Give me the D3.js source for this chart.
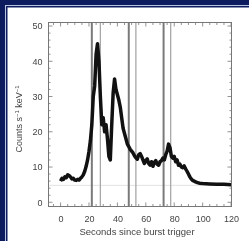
<!DOCTYPE html>
<html>
<head>
<meta charset="utf-8">
<script src="https://cdn.jsdelivr.net/npm/d3@7"></script>
<style>
  html, body { margin: 0; padding: 0; background: #0c1b5e; }
  svg { display: block; }
</style>
</head>
<body>
<svg id="chart" width="249" height="241"></svg>
<script>
// ---- data ----
const times = [0,1,2,3,4,5,6,7,8,9,10,11,12,13,14,15,16,17,18,19,20,21,22,23,24,25,26,27,28,29,30,31,32,33,34,35,36,37,38,39,40,41,42,43,44,45,46,47,48,49,50,51,52,53,54,55,56,57,58,59,60,61,62,63,64,65,66,67,68,69,70,71,72,73,74,75,76,77,78,79,80,81,82,83,84,85,86,87,88,89,90,91,92,93,94,95,96,97,98,100,105,110,115,120];
const counts = [6.0,6.8,6.5,7.2,7.0,7.8,7.6,7.2,6.6,6.8,6.3,6.2,6.5,6.3,6.8,7.2,7.8,8.8,10.2,12.0,14.5,17.5,22,30,33,42,45,40,30,22,24,20,22,18,13,12,22,31,35,32,30.5,29,27,24,21,19.5,18,16.5,15.8,15,14.5,14,13.2,12.6,12.2,13.5,13.8,13.0,12.0,11.0,11.8,12.3,11,10.5,11.5,10.2,11.3,11.8,10.8,10.5,11.5,11.8,12.5,12,13.5,14.5,16.5,15.5,13,12.5,13,11.5,12,10.5,10.8,10,9.8,10.3,9.5,8.8,8,7.2,6.6,6.2,6.0,5.8,5.6,5.5,5.4,5.3,5.2,5.1,5.1,5.0];
const intervalLines = [22, 28, 48, 53, 72.5, 77.5];
const backgroundLevel = [4.8];
const xTicks = [0, 20, 40, 60, 80, 100, 120];
const yTicks = [0, 10, 20, 30, 40, 50];
const xLabel = "Seconds since burst trigger";

const svg = d3.select("#chart");
// outer frame
svg.append("rect").attr("x",0).attr("y",0).attr("width",249).attr("height",241).attr("fill","#0c1b5e");
svg.append("rect").attr("x",5.5).attr("y",5.5).attr("width",260).attr("height",260)
   .attr("fill","none").attr("stroke","#b9c3e2").attr("stroke-width",1);
svg.append("rect").attr("x",7.5).attr("y",7.5).attr("width",250).attr("height",250).attr("fill","#ffffff");

const L = 48.5, R = 231.5, T = 22.5, B = 206.5;
const x = d3.scaleLinear().domain([-8.5, 120.3]).range([L, R]);
const y = d3.scaleLinear().domain([-1.2, 51]).range([B, T]);

const g = svg.append("g").style("filter","blur(0.45px)");

// background level line
g.selectAll(".bg").data(backgroundLevel).enter().append("line")
  .attr("x1", L).attr("x2", R).attr("y1", d=>y(d)).attr("y2", d=>y(d))
  .attr("stroke","#e2e2e2").attr("stroke-width",1);

// interval lines
g.selectAll(".vl").data(intervalLines).enter().append("line")
  .attr("x1", d=>x(d)).attr("x2", d=>x(d)).attr("y1", T).attr("y2", B)
  .attr("stroke", (d,i)=> i%2===0 ? "#7a7a7a" : "#a8a8a8")
  .attr("stroke-width", (d,i)=> i%2===0 ? 2 : 1.3);

// light curve
const line = d3.line().x((d,i)=>x(times[i])).y(d=>y(d)).curve(d3.curveLinear);
g.append("path").datum(counts).attr("d", line)
  .attr("fill","none").attr("stroke","#111").attr("stroke-width",3.5).attr("stroke-linejoin","round");

// frame
g.append("rect").attr("x",L).attr("y",T).attr("width",R-L).attr("height",B-T)
  .attr("fill","none").attr("stroke","#777").attr("stroke-width",1);

// axes
const fmt = d3.format("d");
const axB = d3.axisBottom(x).tickValues(xTicks).tickSize(0).tickPadding(9).tickFormat(fmt);
const axL = d3.axisLeft(y).tickValues(yTicks).tickSize(0).tickPadding(6).tickFormat(fmt);
const gb = g.append("g").attr("transform",`translate(0,${B})`).call(axB);
const gl = g.append("g").attr("transform",`translate(${L},0)`).call(axL);
[gb, gl].forEach(a => {
  a.select(".domain").remove();
  a.selectAll("text").attr("fill","#444").style("font-family","Liberation Sans, Arial, sans-serif").style("font-size","9px");
});

// ticks (inward), mirrored
const xMinor = d3.range(-5, 121, 5);
const yMinor = d3.range(0, 51, 2);
g.selectAll(".xt").data(xMinor).enter().append("line")
  .attr("x1",d=>x(d)).attr("x2",d=>x(d)).attr("y1",B).attr("y2",d=> B-(d%20===0?4:2.5))
  .attr("stroke","#777").attr("stroke-width",0.8);
g.selectAll(".xtt").data(xMinor).enter().append("line")
  .attr("x1",d=>x(d)).attr("x2",d=>x(d)).attr("y1",T).attr("y2",d=> T+(d%20===0?4:2.5))
  .attr("stroke","#777").attr("stroke-width",0.8);
g.selectAll(".yt").data(yMinor).enter().append("line")
  .attr("y1",d=>y(d)).attr("y2",d=>y(d)).attr("x1",L).attr("x2",d=> L+(d%10===0?4:2))
  .attr("stroke","#777").attr("stroke-width",0.8);
g.selectAll(".ytr").data(yMinor).enter().append("line")
  .attr("y1",d=>y(d)).attr("y2",d=>y(d)).attr("x1",R).attr("x2",d=> R-(d%10===0?4:2))
  .attr("stroke","#777").attr("stroke-width",0.8);

// titles
g.append("text").attr("x", 137).attr("y", 235).attr("text-anchor","middle")
  .attr("fill","#444").style("font-family","Liberation Sans, Arial, sans-serif").style("font-size","9.5px")
  .text(xLabel);
const yt = g.append("text").attr("transform","translate(22,119) rotate(-90)").attr("text-anchor","middle")
  .attr("fill","#444").style("font-family","Liberation Sans, Arial, sans-serif").style("font-size","9px");
yt.append("tspan").text("Counts s");
yt.append("tspan").attr("dy","-3").style("font-size","6px").text("−1");
yt.append("tspan").attr("dy","3").text(" keV");
yt.append("tspan").attr("dy","-3").style("font-size","6px").text("−1");
</script>
</body>
</html>
